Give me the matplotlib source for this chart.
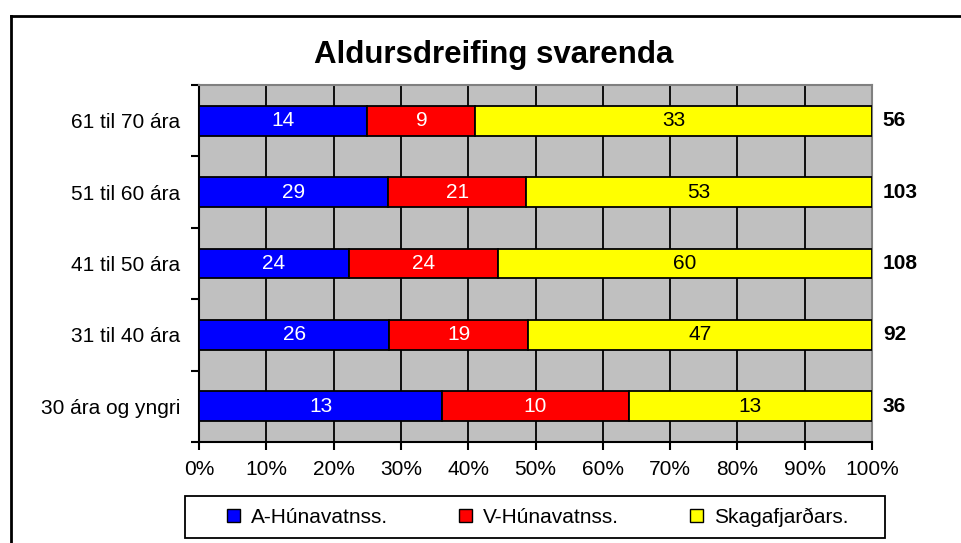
import numpy as np
import matplotlib.pyplot as plt
from matplotlib.lines import Line2D
from matplotlib.patches import Patch, Rectangle
import matplotlib.ticker as ticker

plt.rcParams['font.family'] = ['Liberation Sans', 'DejaVu Sans']

# categories from bottom to top
categories = ['30 ára og yngri', '31 til 40 ára', '41 til 50 ára', '51 til 60 ára', '61 til 70 ára']
a_hun = [13, 26, 24, 29, 14]
v_hun = [10, 19, 24, 21, 9]
skag = [13, 47, 60, 53, 33]
series_names = ['A-Húnavatnss.', 'V-Húnavatnss.', 'Skagafjarðars.']
colors = ['#0000FF', '#FF0000', '#FFFF00']
text_colors = ['white', 'white', 'black']

W, H = 962, 543
fs = 15
fig = plt.figure(figsize=(W / 100, H / 100), dpi=100)
ax = fig.add_axes([199 / W, 1 - 442 / H, (872 - 199) / W, (442 - 85) / H])
ax.set_facecolor('#C0C0C0')

counts = np.array([a_hun, v_hun, skag], dtype=float)
totals = counts.sum(axis=0)
shares = counts / totals * 100
y = np.arange(len(categories))

left = np.zeros(len(categories))
for i in range(3):
    ax.barh(y, shares[i], left=left, height=0.42, color=colors[i],
            edgecolor='black', linewidth=1.3, zorder=3)
    for j in range(len(categories)):
        ax.text(left[j] + shares[i][j] / 2, y[j], str(int(counts[i][j])),
                ha='center', va='center', fontsize=fs, color=text_colors[i], zorder=4)
    left += shares[i]

for j in range(len(categories)):
    ax.text(1.016, y[j], str(int(totals[j])), transform=ax.get_yaxis_transform(),
            ha='left', va='center', fontsize=fs, fontweight='bold')

ax.set_xlim(0, 100)
ax.set_ylim(-0.5, len(categories) - 0.5)
ax.xaxis.set_major_locator(ticker.MultipleLocator(10))
ax.xaxis.set_major_formatter(ticker.FuncFormatter(lambda v, p: '%d%%' % v))
ax.set_yticks(y)
ax.set_yticklabels(categories)
ax.set_yticks(np.arange(-0.5, len(categories)), minor=True)
ax.tick_params(axis='y', which='major', length=0, pad=13.5, labelsize=fs)
ax.tick_params(axis='y', which='minor', length=6, width=1.5, color='black')
ax.tick_params(axis='x', length=6, width=1.5, labelsize=fs, pad=7)

ax.grid(axis='x', color='black', linewidth=1.3, zorder=1)
ax.set_axisbelow(True)
for s in ['top', 'right']:
    ax.spines[s].set_color('#808080')
    ax.spines[s].set_linewidth(1.5)
for s in ['left', 'bottom']:
    ax.spines[s].set_color('black')
    ax.spines[s].set_linewidth(1.5)

fig.text(494 / W, 1 - 55 / H, 'Aldursdreifing svarenda', ha='center', va='center',
         fontsize=22.5, fontweight='bold')

handles = [Patch(facecolor=c, edgecolor='black', linewidth=1) for c in colors]
leg = fig.legend(handles, series_names, loc='center', ncol=3,
                 bbox_to_anchor=(538 / W, 1 - 517 / H), fontsize=fs,
                 handlelength=0.6, handleheight=0.6, handletextpad=0.55,
                 columnspacing=3.4, frameon=False, borderpad=0)
fig.add_artist(Rectangle((185 / W, 1 - 538 / H), 700 / W, 42 / H, transform=fig.transFigure,
                         facecolor='none', edgecolor='black', linewidth=1.3))

# outer chart frame (left and top edges visible)
fig.add_artist(Line2D([11 / W, 11 / W], [0, 1 - 16 / H], color='black', linewidth=2))
fig.add_artist(Line2D([11 / W, 1], [1 - 16 / H, 1 - 16 / H], color='black', linewidth=2))

fig.savefig('out.png', dpi=100)
